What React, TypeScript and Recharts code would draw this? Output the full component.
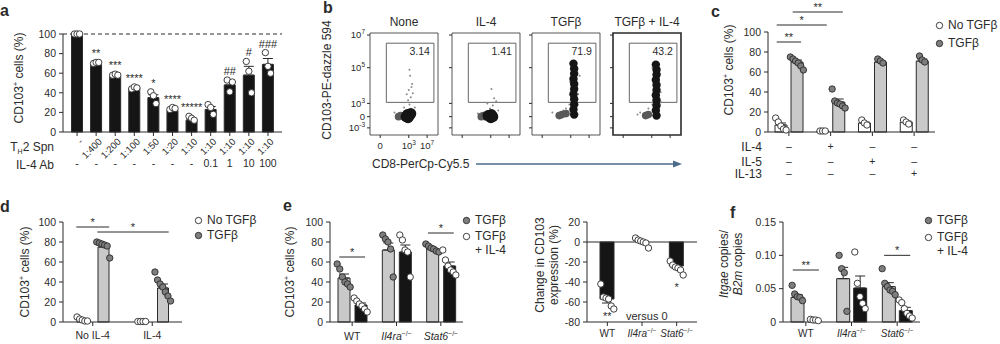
import React from "react";
import {
  ComposedChart,
  ScatterChart,
  Bar,
  Scatter,
  XAxis,
  YAxis,
  ErrorBar,
  ReferenceLine,
  ReferenceArea,
} from "recharts";

const INK = "#2b2b2b";
const GREY = "#c9c9c9";
const DOT = "#7e7e7e";
const BLACK = "#151515";
const FONT = "'Liberation Sans', Arial, sans-serif";

// a: TH2 supernatant titration (% CD103+)
const aSpn = ["-", "1:400", "1:200", "1:100", "1:50", "1:20", "1:10", "1:10", "1:10", "1:10", "1:10"];
const aAb = ["-", "-", "-", "-", "-", "-", "-", "0.1", "1", "10", "100"];
const aMean = [100, 69, 57, 45, 35, 22, 12, 23, 48, 58, 69];
const aSem = [0, 1, 1, 1, 3, 1, 1, 3, 4, 9, 6];
const aPts = [
  [100, 100, 100], [70, 71, 71], [58, 59, 58], [44, 46, 45], [41, 37, 29], [23, 25, 24],
  [16, 14, 12], [28, 25, 18], [53, 41, 51], [72, 62, 40], [81, 67, 60],
];
const aSig = ["", "**", "***", "****", "*", "****", "*****", "", "##", "#", "###"];

// b: flow plots
const flowNames = ["None", "IL-4", "TGFβ", "TGFβ + IL-4"];
const flowGate = ["3.14", "1.41", "71.9", "43.2"];
const flowCore = [
  [[55, 20], [58, 19], [56, 17], [60, 21], [53, 18]],
  [[55, 19], [58, 20], [60, 18], [57, 17], [53, 19]],
  [[62, 20], [61, 25], [62, 30], [62, 35], [61, 40], [62, 45], [62, 50], [61, 55], [62, 60], [62, 65], [61, 70]],
  [[64, 19], [63, 24], [64, 29], [64, 34], [63, 39], [64, 44], [64, 49], [63, 54], [64, 59], [64, 64], [63, 69]],
];
const flowSide = [
  [[42, 18], [45, 19]],
  [[43, 18], [46, 19], [49, 18]],
  [[40, 19], [44, 20], [50, 21]],
  [[48, 19], [52, 20]],
];
const flowSpread = [
  [[58, 30], [60, 37], [57, 44], [62, 50], [59, 58], [56, 34], [63, 41], [50, 27], [36, 22], [66, 27], [58, 64], [61, 47], [54, 40]],
  [[60, 29], [62, 36], [58, 45], [65, 33], [56, 26], [52, 31], [68, 24], [38, 21]],
  [[55, 30], [68, 40], [56, 52], [50, 26], [70, 58], [57, 65], [67, 30], [46, 24], [30, 22]],
  [[58, 30], [70, 42], [59, 55], [52, 26], [69, 60], [58, 66], [71, 32], [40, 22], [36, 20]],
];
const flowYTicks = [7, 18, 31, 66, 98];
const flowYLabels = ["10^-3", "0", "10^3", "10^5", "10^7"];
const flowXTicks = [15, 57, 84];
const flowXLabels = ["0", "10^3", "10^7"];

// c: cytokine panel
const cIl4 = ["–", "+", "–", "–"];
const cIl5 = ["–", "–", "+", "–"];
const cIl13 = ["–", "–", "–", "+"];
const cNoTgf = [7, 1, 9, 10];
const cNoTgfSem = [2, 0, 1, 1];
const cNoTgfPts = [[14, 10, 6, 3, 2], [1, 1, 1], [12, 9, 7], [12, 10, 8]];
const cTgf = [70, 30, 70, 71];
const cTgfSem = [2, 3, 1, 2];
const cTgfPts = [[75, 73, 71, 69, 66, 62], [43, 31, 29, 28, 26, 24], [73, 71, 69], [76, 72, 70]];

// d
const dCats = ["No IL-4", "IL-4"];
const dNoTgf = [2, 0.5];
const dNoTgfSem = [1, 0];
const dNoTgfPts = [[5, 3, 2, 1, 1], [0.5, 0.5, 0.5, 0.5]];
const dTgf = [75, 34];
const dTgfSem = [2, 4];
const dTgfPts = [[80, 79, 78, 77, 76, 64], [50, 42, 38, 35, 30, 26, 21]];

// e
const eGenes = ["WT", "Il4ra", "Stat6"];
const eKo = ["", "−/−", "−/−"];
const eTgf = [44, 72, 73];
const eTgfSem = [4, 7, 1];
const eTgfPts = [[58, 53, 45, 40, 38, 35], [87, 83, 80, 73, 45], [78, 76, 74, 73, 71, 70]];
const eTgfIl4 = [17, 70, 56];
const eTgfIl4Sem = [2, 7, 4];
const eTgfIl4Pts = [[24, 21, 18, 16, 13, 10], [87, 82, 72, 70, 45], [72, 62, 56, 52, 50, 47]];
const eChange = [-57, 0, -24];
const eChangeSem = [4, 2, 2];
const eChangePts = [[-42, -55, -56, -57, -64, -67], [4, 2, 1, 0, -1, -6], [-19, -23, -25, -26, -28, -33]];

// f: Itgae / B2m
const fTgf = [0.037, 0.065, 0.053];
const fTgfSem = [0.004, 0.017, 0.006];
const fTgfPts = [[0.055, 0.042, 0.038, 0.037, 0.032], [0.1, 0.08, 0.074, 0.016], [0.08, 0.058, 0.053, 0.048, 0.046, 0.041]];
const fTgfIl4 = [0.003, 0.051, 0.017];
const fTgfIl4Sem = [0.001, 0.018, 0.005];
const fTgfIl4Pts = [[0.004, 0.003, 0.003, 0.002], [0.105, 0.058, 0.038, 0.028, 0.02], [0.033, 0.029, 0.02, 0.013, 0.009, 0.006]];

const tickStyle = { fontSize: 10.5, fill: INK };

function DotBars(props: any) {
  const {
    n, series, geo, domain, ticks, tickFmt, barSize, barGap = 0, xHeight, xTick, xLabels,
    xTickMargin = 4, rows = [], sigs = [], notes = [], zero, dashed,
  } = props;
  const rowH = rows.reduce((s: number, r: any) => s + r.height, 0);
  const width = geo.x1 - geo.x0 + geo.yw + 8;
  const height = geo.top + (geo.y1 - geo.y0) + xHeight + rowH;
  const band = (geo.x1 - geo.x0 - 2 * geo.pad) / n;
  const m = series.length;
  const bx = (cat: number, s: number) => cat + 0.5 + ((s - (m - 1) / 2) * (barSize + barGap)) / band;

  const data = Array.from({ length: n }, (_, i) => {
    const row: any = { i };
    series.forEach((s: any, k: number) => {
      row["m" + k] = s.mean[i];
      row["e" + k] = s.mean[i] >= 0 ? [0, s.sem[i]] : [s.sem[i], 0];
    });
    return row;
  });
  const dots = series.map((s: any, k: number) =>
    s.pts.flatMap((vals: number[], i: number) =>
      vals.map((v, j) => ({ x: bx(i, k) + ((j - (vals.length - 1) / 2) * 2.6) / band, y: v }))
    )
  );
  const noteData = notes.map((nn: any) => ({ x: nn.cat + 0.5, y: nn.y, t: nn.t, dy: nn.dy }));

  return (
    <div style={{ position: "absolute", left: geo.x0 - geo.yw, top: geo.y0 - geo.top }}>
      <ComposedChart
        width={width}
        height={height}
        data={data}
        barGap={barGap}
        margin={{ top: geo.top, right: 8, bottom: 0, left: 0 }}
      >
        <XAxis
          dataKey="i"
          interval={0}
          tickSize={4}
          tickMargin={xTickMargin}
          height={xHeight}
          stroke={INK}
          padding={{ left: geo.pad, right: geo.pad }}
          tick={xTick ?? tickStyle}
          tickFormatter={(v: number) => (xLabels ? xLabels[v] : "")}
        />
        {rows.map((r: any, k: number) => (
          <XAxis
            key={"r" + k}
            xAxisId={"r" + k}
            dataKey="i"
            interval={0}
            axisLine={false}
            tickLine={false}
            tickSize={0}
            tickMargin={r.margin}
            height={r.height}
            padding={{ left: geo.pad, right: geo.pad }}
            tick={tickStyle}
            tickFormatter={(v: number) => r.labels[v]}
          />
        ))}
        <XAxis
          xAxisId="n"
          type="number"
          dataKey="x"
          orientation="top"
          height={0}
          domain={[0, n]}
          hide
          padding={{ left: geo.pad, right: geo.pad }}
        />
        <YAxis
          type="number"
          domain={domain}
          ticks={ticks}
          interval={0}
          width={geo.yw}
          tickSize={4}
          tickMargin={3}
          stroke={INK}
          tick={tickStyle}
          tickFormatter={tickFmt}
        />
        {dashed !== undefined && (
          <ReferenceLine y={dashed} stroke={INK} strokeDasharray="4 3" strokeWidth={1} />
        )}
        {zero && <ReferenceLine y={0} stroke={INK} strokeWidth={1} />}
        {series.map((s: any, k: number) => (
          <Bar
            key={"b" + k}
            dataKey={"m" + k}
            fill={s.fill}
            stroke={INK}
            strokeWidth={1}
            barSize={barSize}
            isAnimationActive={false}
          >
            <ErrorBar dataKey={"e" + k} width={5} stroke={INK} strokeWidth={1} direction="y" isAnimationActive={false} />
          </Bar>
        ))}
        {series.map((s: any, k: number) => (
          <Scatter
            key={"d" + k}
            xAxisId="n"
            data={dots[k]}
            dataKey="y"
            isAnimationActive={false}
            shape={(p: any) => (
              <circle cx={p.cx} cy={p.cy} r={3.2} fill={s.dot} stroke={INK} strokeWidth={0.9} />
            )}
          />
        ))}
        {sigs.map((s: any, k: number) => (
          <ReferenceLine
            key={"s" + k}
            xAxisId="n"
            segment={[
              { x: bx(s.a[0], s.a[1]) - 0.1, y: s.y },
              { x: bx(s.b[0], s.b[1]) + 0.1, y: s.y },
            ]}
            stroke={INK}
            strokeWidth={1}
            ifOverflow="visible"
            label={{ value: s.text, position: "top", offset: 1, fontSize: 11, fill: INK }}
          />
        ))}
        {noteData.length > 0 && (
          <Scatter
            xAxisId="n"
            data={noteData}
            dataKey="y"
            isAnimationActive={false}
            shape={(p: any) => {
              const d = p.payload ?? p;
              return (
                <text x={p.cx} y={p.cy + d.dy} textAnchor="middle" fontSize={11} fill={INK}>
                  {d.t}
                </text>
              );
            }}
          />
        )}
      </ComposedChart>
    </div>
  );
}

function RotTick({ x, y, payload }: any) {
  return (
    <g transform={`translate(${x + 4},${y})`}>
      <text x={0} y={0} dy="0.35em" textAnchor="end" transform="rotate(-45)" fontSize={9.5} fill={INK}>
        {aSpn[payload.value]}
      </text>
    </g>
  );
}

function GeneTick({ x, y, payload, fs }: any) {
  const i = payload.value;
  return (
    <text x={x} y={y} dy={fs * 0.8} textAnchor="middle" fontSize={fs} fill={INK}>
      <tspan fontStyle={eKo[i] ? "italic" : "normal"}>{eGenes[i]}</tspan>
      {eKo[i] ? (
        <tspan dy={-fs * 0.4} fontSize={fs * 0.65}>
          {eKo[i]}
        </tspan>
      ) : null}
    </text>
  );
}

function PowTick({ x, y, payload, ticks, labels, anchor, show }: any) {
  if (!show) return <g />;
  const lab = labels[ticks.indexOf(payload.value)] ?? "";
  const [b, e] = lab.split("^");
  return (
    <text x={x} y={y} dy={anchor === "end" ? "0.35em" : "0.9em"} textAnchor={anchor} fontSize={9.5} fill={INK}>
      {b}
      {e ? (
        <tspan dy={-4} fontSize={6.5}>
          {e}
        </tspan>
      ) : null}
    </text>
  );
}

const flowLeft = [370, 452, 532, 613];
const FLOW_W = 68;
const FLOW_TOP = 33;
const FLOW_H = 102;

function Flow({ k }: { k: number }) {
  const first = k === 0;
  const yw = first ? 24 : 4;
  const core = flowCore[k].map(([x, y]) => ({ x, y }));
  const side = flowSide[k].map(([x, y]) => ({ x, y }));
  const spread = flowSpread[k].map(([x, y]) => ({ x, y }));
  return (
    <div style={{ position: "absolute", left: flowLeft[k] - yw, top: FLOW_TOP - 4 }}>
      <ScatterChart
        width={yw + FLOW_W + 4}
        height={4 + FLOW_H + 18}
        margin={{ top: 4, right: 4, bottom: 0, left: 0 }}
      >
        <XAxis
          type="number"
          dataKey="x"
          domain={[0, 100]}
          ticks={flowXTicks}
          interval={0}
          axisLine={false}
          tickSize={3}
          tickMargin={2}
          height={18}
          stroke={INK}
          tick={(p: any) => <PowTick {...p} ticks={flowXTicks} labels={flowXLabels} anchor="middle" show={first} />}
        />
        <YAxis
          type="number"
          dataKey="y"
          domain={[0, 100]}
          ticks={flowYTicks}
          interval={0}
          axisLine={false}
          tickSize={3}
          tickMargin={2}
          width={yw}
          stroke={INK}
          tick={(p: any) => <PowTick {...p} ticks={flowYTicks} labels={flowYLabels} anchor="end" show={first} />}
        />
        <ReferenceArea x1={0} x2={100} y1={0} y2={100} fill="none" stroke={INK} strokeWidth={k === 3 ? 1.6 : 0.8} />
        <ReferenceArea
          x1={24}
          x2={94}
          y1={32}
          y2={90}
          fill="none"
          stroke="#555"
          strokeWidth={0.9}
          label={{ value: flowGate[k], position: "insideTopRight", offset: 4, fontSize: 10.5, fill: INK }}
        />
        <Scatter
          data={spread}
          isAnimationActive={false}
          shape={(p: any) => <circle cx={p.cx} cy={p.cy} r={1} fill="#8a8a8a" />}
        />
        <Scatter
          data={side}
          isAnimationActive={false}
          shape={(p: any) => <circle cx={p.cx} cy={p.cy} r={3.8} fill="#5a5a5a" />}
        />
        <Scatter
          data={core}
          isAnimationActive={false}
          shape={(p: any) => <circle cx={p.cx} cy={p.cy} r={k < 2 ? 5.5 : 4.2} fill={BLACK} />}
        />
      </ScatterChart>
    </div>
  );
}

function Letter({ x, y, ch }: any) {
  return (
    <div style={{ position: "absolute", left: x - 5, top: y - 9, fontSize: 16, fontWeight: 700, lineHeight: "18px" }}>
      {ch}
    </div>
  );
}

function VLabel({ x, y, size = 12, children }: any) {
  return (
    <div
      style={{
        position: "absolute",
        left: x,
        top: y,
        transform: "translate(-50%, -50%) rotate(-90deg)",
        whiteSpace: "nowrap",
        fontSize: size,
        lineHeight: "14px",
        textAlign: "center",
      }}
    >
      {children}
    </div>
  );
}

function Text({ x, y, size = 12, anchor = "left", children, w = 80 }: any) {
  const left = anchor === "left" ? x : anchor === "right" ? x - w : x - w / 2;
  return (
    <div
      style={{
        position: "absolute",
        left,
        top: y - 8,
        width: w,
        height: 16,
        lineHeight: "16px",
        fontSize: size,
        textAlign: anchor,
        whiteSpace: "nowrap",
      }}
    >
      {children}
    </div>
  );
}

function Key({ x, y, open, label }: any) {
  return (
    <div style={{ position: "absolute", left: x, top: y - 8, height: 16, display: "flex", alignItems: "center", fontSize: 12, whiteSpace: "nowrap" }}>
      <svg width={9} height={9}>
        <circle cx={4.5} cy={4.5} r={3.2} fill={open ? "#fff" : DOT} stroke={INK} strokeWidth={0.9} />
      </svg>
      <span style={{ marginLeft: 4 }}>{label}</span>
    </div>
  );
}

const Cd103 = () => (
  <span>
    CD103<sup style={{ fontSize: 7 }}>+</sup> cells (%)
  </span>
);

const pct = [0, 20, 40, 60, 80, 100];

export default function App() {
  return (
    <div
      style={{
        position: "absolute",
        left: 0,
        top: 0,
        width: 1000,
        height: 344,
        overflow: "hidden",
        background: "#fff",
        fontFamily: FONT,
        color: INK,
        opacity: 0.999,
      }}
    >
      {/* a */}
      <Letter x={5} y={11} ch="a" />
      <VLabel x={17} y={78}>
        <Cd103 />
      </VLabel>
      <DotBars
        n={11}
        series={[{ mean: aMean, sem: aSem, pts: aPts, fill: BLACK, dot: "#fff" }]}
        geo={{ x0: 63, x1: 282, y0: 34, y1: 132, yw: 30, top: 12, pad: 4.5 }}
        domain={[0, 100]}
        ticks={pct}
        barSize={11}
        xHeight={24}
        xTick={(p: any) => <RotTick {...p} />}
        rows={[{ labels: aAb, height: 16, margin: 4 }]}
        dashed={100}
        notes={aSig
          .map((t, i) => ({ cat: i, y: Math.max(...aPts[i]), t, dy: -5 }))
          .filter((d) => d.t)}
      />
      <Text x={54} y={147} anchor="right" w={60}>
        T<sub style={{ fontSize: 7 }}>H</sub>2 Spn
      </Text>
      <Text x={54} y={165} anchor="right" w={60}>
        IL-4 Ab
      </Text>

      {/* b */}
      <Letter x={328} y={8} ch="b" />
      <VLabel x={327} y={80}>
        CD103-PE-dazzle 594
      </VLabel>
      {flowNames.map((name, k) => (
        <Text key={name} x={flowLeft[k] + FLOW_W / 2} y={22} anchor="center" w={90}>
          {name}
        </Text>
      ))}
      {flowNames.map((name, k) => (
        <Flow key={"f" + name} k={k} />
      ))}
      <Text x={372} y={164}>
        CD8-PerCp-Cy5.5
      </Text>
      <svg style={{ position: "absolute", left: 470, top: 158 }} width={215} height={12}>
        <line x1={6} y1={6} x2={206} y2={6} stroke="#4d6b8c" strokeWidth={1.6} />
        <polygon points="212,6 203,2.5 203,9.5" fill="#4d6b8c" />
      </svg>

      {/* c */}
      <Letter x={716} y={12} ch="c" />
      <VLabel x={727} y={70}>
        <Cd103 />
      </VLabel>
      <DotBars
        n={4}
        series={[
          { mean: cNoTgf, sem: cNoTgfSem, pts: cNoTgfPts, fill: "#fff", dot: "#fff" },
          { mean: cTgf, sem: cTgfSem, pts: cTgfPts, fill: GREY, dot: DOT },
        ]}
        geo={{ x0: 768, x1: 935, y0: 32, y1: 132, yw: 30, top: 32, pad: 0 }}
        domain={[0, 100]}
        ticks={pct}
        barSize={12}
        barGap={4}
        xHeight={22}
        xTickMargin={7}
        xLabels={cIl4}
        rows={[
          { labels: cIl5, height: 12, margin: 4 },
          { labels: cIl13, height: 12, margin: 4 },
        ]}
        sigs={[
          { a: [0, 0], b: [0, 1], y: 90, text: "**" },
          { a: [0, 0], b: [1, 0], y: 107, text: "*" },
          { a: [0, 1], b: [1, 1], y: 120, text: "**" },
        ]}
      />
      <Text x={762} y={147} anchor="right" w={40}>IL-4</Text>
      <Text x={762} y={162} anchor="right" w={40}>IL-5</Text>
      <Text x={762} y={174} anchor="right" w={40}>IL-13</Text>
      <Key x={935} y={25} open label="No TGFβ" />
      <Key x={935} y={43} label="TGFβ" />

      {/* d */}
      <Letter x={5} y={207} ch="d" />
      <VLabel x={23} y={272}>
        <Cd103 />
      </VLabel>
      <DotBars
        n={2}
        series={[
          { mean: dNoTgf, sem: dNoTgfSem, pts: dNoTgfPts, fill: "#fff", dot: "#fff" },
          { mean: dTgf, sem: dTgfSem, pts: dTgfPts, fill: GREY, dot: DOT },
        ]}
        geo={{ x0: 63, x1: 182, y0: 222, y1: 322, yw: 30, top: 10, pad: 0 }}
        domain={[0, 100]}
        ticks={pct}
        barSize={11}
        barGap={10}
        xHeight={22}
        xTickMargin={6}
        xLabels={dCats}
        sigs={[
          { a: [0, 0], b: [0, 1], y: 95, text: "*" },
          { a: [0, 1], b: [1, 1], y: 90, text: "*" },
        ]}
      />
      <Key x={194} y={220} open label="No TGFβ" />
      <Key x={194} y={235} label="TGFβ" />

      {/* e */}
      <Letter x={288} y={206} ch="e" />
      <VLabel x={288} y={272}>
        <Cd103 />
      </VLabel>
      <DotBars
        n={3}
        series={[
          { mean: eTgf, sem: eTgfSem, pts: eTgfPts, fill: GREY, dot: DOT },
          { mean: eTgfIl4, sem: eTgfIl4Sem, pts: eTgfIl4Pts, fill: BLACK, dot: "#fff" },
        ]}
        geo={{ x0: 330, x1: 463, y0: 222, y1: 322, yw: 30, top: 10, pad: 0 }}
        domain={[0, 100]}
        ticks={pct}
        barSize={12}
        barGap={5}
        xHeight={22}
        xTickMargin={6}
        xTick={(p: any) => <GeneTick {...p} fs={10.5} />}
        sigs={[
          { a: [0, 0], b: [0, 1], y: 65, text: "*" },
          { a: [2, 0], b: [2, 1], y: 89, text: "*" },
        ]}
      />
      <Key x={462} y={220} label="TGFβ" />
      <Key x={462} y={236} open label="TGFβ" />
      <Text x={475} y={250}>+ IL-4</Text>

      <VLabel x={547} y={265}>
        Change in CD103
        <br />
        expression (%)
      </VLabel>
      <DotBars
        n={3}
        series={[{ mean: eChange, sem: eChangeSem, pts: eChangePts, fill: BLACK, dot: "#fff" }]}
        geo={{ x0: 587, x1: 697, y0: 222, y1: 322, yw: 30, top: 10, pad: 3 }}
        domain={[-80, 20]}
        ticks={[-80, -60, -40, -20, 0, 20]}
        barSize={14}
        xHeight={22}
        xTickMargin={3}
        xTick={(p: any) => <GeneTick {...p} fs={10} />}
        zero
        notes={[
          { cat: 0, y: -74, t: "**", dy: 4 },
          { cat: 2, y: -45, t: "*", dy: 4 },
        ]}
      />
      <Text x={626} y={316} size={11}>versus 0</Text>

      {/* f */}
      <Letter x={735} y={213} ch="f" />
      <VLabel x={731} y={264}>
        <i>Itgae</i> copies/
        <br />
        <i>B2m</i> copies
      </VLabel>
      <DotBars
        n={3}
        series={[
          { mean: fTgf, sem: fTgfSem, pts: fTgfPts, fill: GREY, dot: DOT },
          { mean: fTgfIl4, sem: fTgfIl4Sem, pts: fTgfIl4Pts, fill: BLACK, dot: "#fff" },
        ]}
        geo={{ x0: 783, x1: 920, y0: 222, y1: 322, yw: 34, top: 10, pad: 0 }}
        domain={[0, 0.15]}
        ticks={[0, 0.05, 0.1, 0.15]}
        tickFmt={(v: number) => (v === 0 ? "0" : v.toFixed(2))}
        barSize={13}
        barGap={4}
        xHeight={22}
        xTickMargin={3}
        xTick={(p: any) => <GeneTick {...p} fs={10} />}
        sigs={[
          { a: [0, 0], b: [0, 1], y: 0.078, text: "**" },
          { a: [2, 0], b: [2, 1], y: 0.1, text: "*" },
        ]}
      />
      <Key x={924} y={220} label="TGFβ" />
      <Key x={924} y={237} open label="TGFβ" />
      <Text x={937} y={251}>+ IL-4</Text>
    </div>
  );
}
